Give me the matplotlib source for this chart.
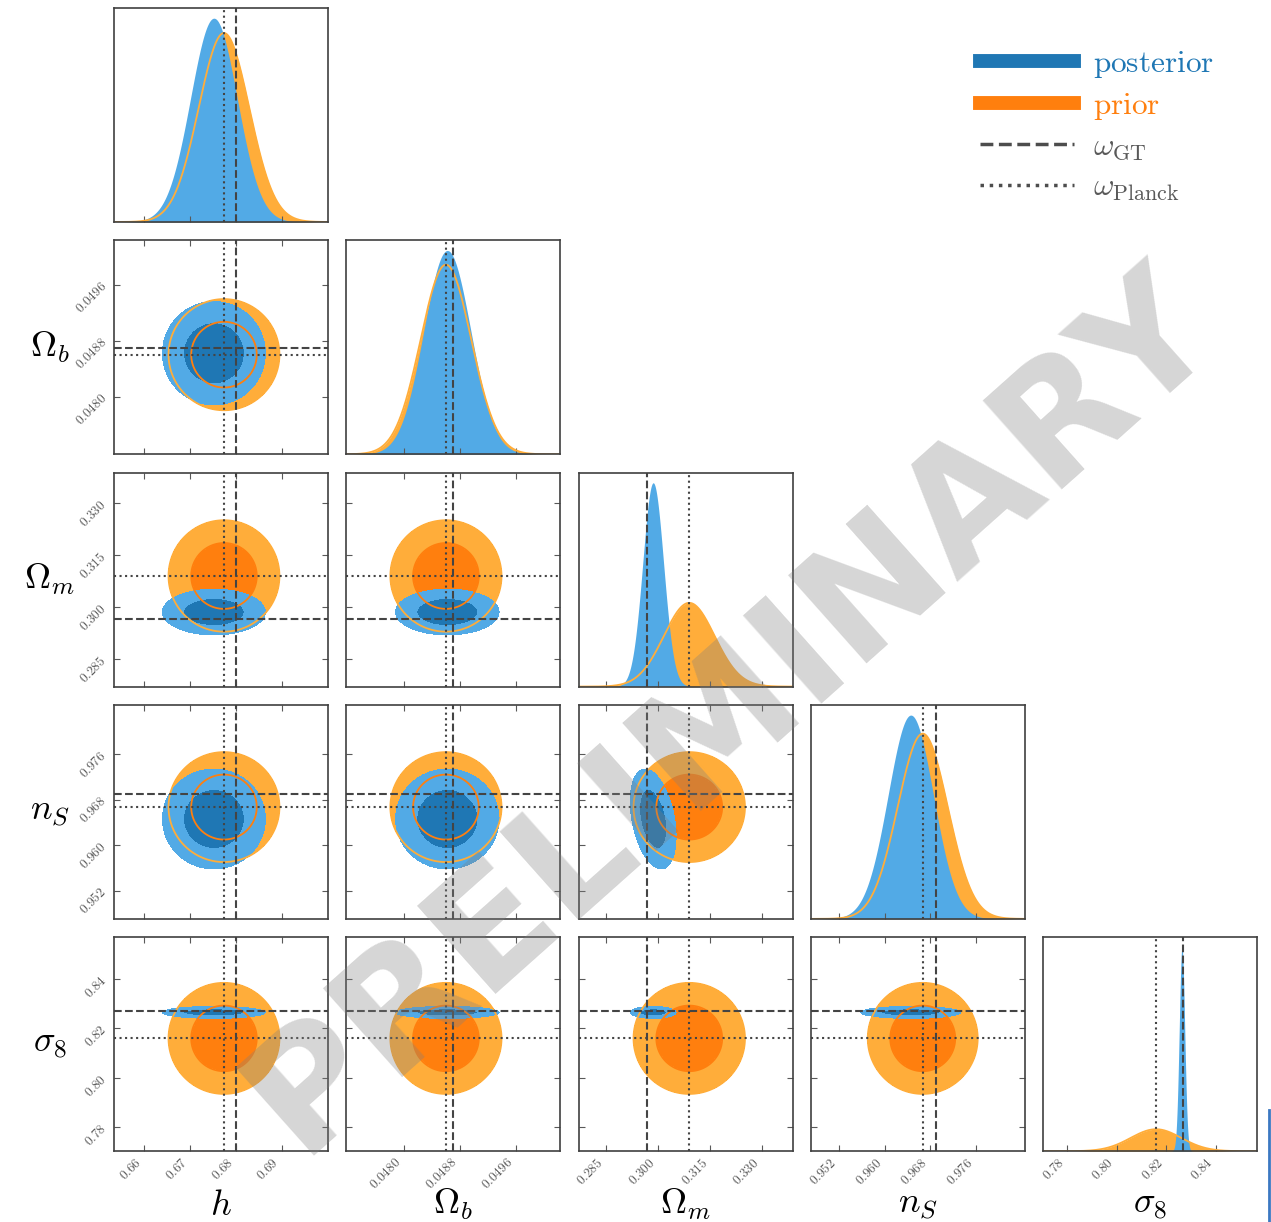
import numpy as np
import matplotlib
matplotlib.use('Agg')
import matplotlib.pyplot as plt
from matplotlib.lines import Line2D

plt.rcParams['mathtext.fontset'] = 'cm'
plt.rcParams['font.family'] = 'DejaVu Serif'

# parameters of the corner plot
labels = [r'$h$', r'$\Omega_b$', r'$\Omega_m$', r'$n_S$', r'$\sigma_8$']
gt_values = [0.6800, 0.04870, 0.2966, 0.9690, 0.8270]
planck_values = [0.6774, 0.04860, 0.3089, 0.9667, 0.8159]
prior_sigma = [0.0055, 0.000360, 0.0073, 0.0044, 0.0102]
post_mean = [0.6752, 0.04862, 0.2985, 0.9646, 0.8264]
post_sigma = [0.0051, 0.000335, 0.0030, 0.0040, 0.0011]
post_corr = {(2, 3): -0.35}   # (Omega_m, n_S)
axis_lo = [0.6534, 0.04718, 0.2770, 0.9470, 0.7703]
axis_hi = [0.7001, 0.05023, 0.3387, 0.9847, 0.8568]
tick_vals = [[0.66, 0.67, 0.68, 0.69],
             [0.0480, 0.0488, 0.0496],
             [0.285, 0.300, 0.315, 0.330],
             [0.952, 0.960, 0.968, 0.976],
             [0.78, 0.80, 0.82, 0.84]]
tick_text = [['0.66', '0.67', '0.68', '0.69'],
             ['0.0480', '0.0488', '0.0496'],
             ['0.285', '0.300', '0.315', '0.330'],
             ['0.952', '0.960', '0.968', '0.976'],
             ['0.78', '0.80', '0.82', '0.84']]

c_post_light = '#52aae6'
c_post_dark = '#1f77b4'
c_prior_light = '#ffad3a'
c_prior_dark = '#ff7f0e'
c_ref = '#444444'
r_in, r_out = 1.3, 2.2   # contour radii in sigma units

n = len(labels)
W, H = 1271, 1222
fig = plt.figure(figsize=(W / 100, H / 100), dpi=100)

def gauss(x, m, s):
    return np.exp(-0.5 * ((x - m) / s) ** 2) / (s * np.sqrt(2 * np.pi))

def dist2(X, Y, mx, my, sx, sy, rho):
    dx = (X - mx) / sx
    dy = (Y - my) / sy
    return (dx ** 2 - 2 * rho * dx * dy + dy ** 2) / (1 - rho ** 2)

def style_ticks(ax, diag):
    ax.tick_params(direction='in', length=4, width=0.8, color='0.35',
                   labelsize=9.5, labelcolor='0.35',
                   top=not diag, right=not diag, left=not diag)
    for s in ax.spines.values():
        s.set_color('0.25')
        s.set_linewidth(1.2)

for i in range(n):
    for j in range(i + 1):
        left = (114 + j * 232.3) / W
        bottom = 1 - (8 + i * 232.3 + 214) / H
        ax = fig.add_axes([left, bottom, 214 / W, 214 / H])
        ax.set_xlim(axis_lo[j], axis_hi[j])
        ax.set_xticks(tick_vals[j])
        if i == j:
            x = np.linspace(axis_lo[j], axis_hi[j], 3000)
            p_prior = gauss(x, planck_values[j], prior_sigma[j])
            p_post = gauss(x, post_mean[j], post_sigma[j])
            ax.fill_between(x, 0, p_prior, color=c_prior_light, lw=0)
            ax.fill_between(x, 0, p_post, color=c_post_light, lw=0)
            ax.plot(x, p_prior, color=c_prior_light, lw=1.3)
            ax.set_ylim(0, 1.05 * max(p_prior.max(), p_post.max()))
            ax.set_yticks([])
            ax.axvline(gt_values[j], color=c_ref, ls='--', lw=1.5)
            ax.axvline(planck_values[j], color=c_ref, ls=':', lw=1.5)
        else:
            ax.set_ylim(axis_lo[i], axis_hi[i])
            ax.set_yticks(tick_vals[i])
            gx = np.linspace(axis_lo[j], axis_hi[j], 400)
            gy = np.linspace(axis_lo[i], axis_hi[i], 400)
            X, Y = np.meshgrid(gx, gy)
            d_prior = dist2(X, Y, planck_values[j], planck_values[i],
                            prior_sigma[j], prior_sigma[i], 0.0)
            rho = post_corr.get((j, i), 0.0)
            d_post = dist2(X, Y, post_mean[j], post_mean[i],
                           post_sigma[j], post_sigma[i], rho)
            lv = [0, r_in ** 2, r_out ** 2]
            ax.contourf(X, Y, d_prior, levels=lv, colors=[c_prior_dark, c_prior_light])
            ax.contourf(X, Y, d_post, levels=lv, colors=[c_post_dark, c_post_light])
            ax.contour(X, Y, d_prior, levels=lv[1:], colors=[c_prior_dark, c_prior_light],
                       linewidths=1.3)
            ax.axvline(gt_values[j], color=c_ref, ls='--', lw=1.5)
            ax.axvline(planck_values[j], color=c_ref, ls=':', lw=1.5)
            ax.axhline(gt_values[i], color=c_ref, ls='--', lw=1.5)
            ax.axhline(planck_values[i], color=c_ref, ls=':', lw=1.5)
            if j == 0:
                ax.set_yticklabels(['$%s$' % t for t in tick_text[i]], rotation=45)
                ax.set_ylabel(labels[i], fontsize=26, rotation=0, va='center', ha='center')
                ax.yaxis.set_label_coords(-0.3, 0.5)
            else:
                ax.set_yticklabels([])
        style_ticks(ax, i == j)
        if i == n - 1:
            ax.set_xticklabels(['$%s$' % t for t in tick_text[j]], rotation=45, ha='right')
            ax.set_xlabel(labels[j], fontsize=26, va='center')
            ax.xaxis.set_label_coords(0.5, -0.25)
        else:
            ax.set_xticklabels([])

handles = [Line2D([], [], color=c_post_dark, lw=10),
           Line2D([], [], color=c_prior_dark, lw=10),
           Line2D([], [], color='0.3', ls='--', lw=2.5),
           Line2D([], [], color='0.3', ls=':', lw=2.5)]
leg_text = [r'$\mathrm{posterior}$', r'$\mathrm{prior}$',
            r'$\omega_{\mathrm{GT}}$', r'$\omega_{\mathrm{Planck}}$']
fig.legend(handles, leg_text, loc='upper left', bbox_to_anchor=(952 / W, 1 - 20 / H),
           frameon=False, fontsize=22.5, handlelength=3.0, handletextpad=0.6,
           labelspacing=0.3,
           labelcolor=[c_post_dark, c_prior_dark, '0.35', '0.35'])

fig.text(0.575, 0.418, 'PRELIMINARY', rotation=41.7, fontsize=117, fontweight='bold',
         family='DejaVu Sans', color='0.5', alpha=0.32, ha='center', va='center', zorder=100)
fig.add_artist(Line2D([0.9985, 0.9985], [0, 0.092], color='#3b78c2', lw=2))

fig.savefig('out.png', dpi=100)
